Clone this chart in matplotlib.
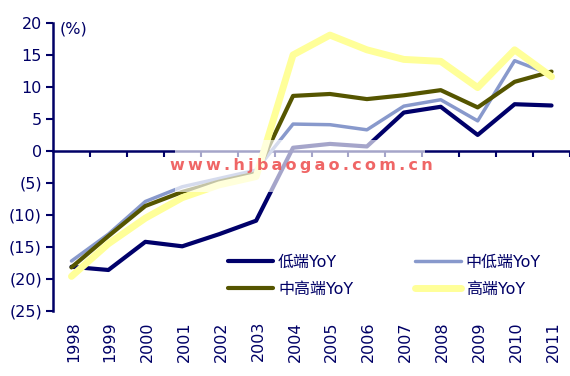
import matplotlib
matplotlib.use('Agg')
import matplotlib.pyplot as plt
from matplotlib.patches import Rectangle
import matplotlib.transforms as mtransforms

plt.rcParams['font.family'] = ['DejaVu Sans', 'Noto Sans CJK SC']

years = ['1998', '1999', '2000', '2001', '2002', '2003', '2004',
         '2005', '2006', '2007', '2008', '2009', '2010', '2011']
low = [-18.1, -18.6, -14.2, -14.9, -13.0, -10.9, 0.5, 1.1, 0.7, 6.0, 6.9, 2.5, 7.3, 7.1]
mid_low = [-17.2, -13.0, -7.9, -5.6, -4.3, -3.0, 4.2, 4.1, 3.3, 7.0, 8.0, 4.7, 14.1, 11.9]
mid_high = [-18.2, -13.3, -8.6, -6.4, -4.8, -3.5, 8.6, 8.9, 8.1, 8.7, 9.5, 6.8, 10.8, 12.4]
high = [-19.6, -14.5, -10.5, -7.3, -5.3, -4.0, 15.0, 18.1, 15.8, 14.3, 14.0, 9.9, 15.8, 11.6]
labels = ['低端YoY', '中低端YoY', '中高端YoY', '高端YoY']
yticks = [20, 15, 10, 5, 0, -5, -10, -15, -20, -25]
watermark = 'www.hjbaogao.com.cn'

navy = '#000066'
fs = 11.5
x = list(range(len(years)))

fig = plt.figure(figsize=(5.7, 3.76), dpi=100)
ax = fig.add_axes([0.093, 0.173, 0.907, 0.766])

l1, = ax.plot(x, low, color='#00006a', lw=3.0, zorder=3, solid_capstyle='round')
l2, = ax.plot(x, mid_low, color='#8899cc', lw=2.5, zorder=4, solid_capstyle='round')
l3, = ax.plot(x, mid_high, color='#555500', lw=3.0, zorder=5, solid_capstyle='round')
l4, = ax.plot(x, high, color='#ffff99', lw=5.0, zorder=6, solid_capstyle='round')

ax.set_xlim(-0.5, len(years) - 0.5)
ax.set_ylim(-25, 20)
ax.set_yticks(yticks)
ax.set_yticklabels([str(v) if v >= 0 else '(%d)' % -v for v in yticks],
                   fontsize=fs, color=navy)
ax.tick_params(axis='y', direction='out', length=5, width=1.5, color=navy, pad=3)

for s in ['top', 'right']:
    ax.spines[s].set_visible(False)
ax.spines['left'].set_color(navy)
ax.spines['left'].set_linewidth(1.8)
ax.spines['bottom'].set_position(('data', 0))
ax.spines['bottom'].set_color(navy)
ax.spines['bottom'].set_linewidth(1.8)
ax.spines['bottom'].set_zorder(2)
ax.set_xticks([i + 0.5 for i in x])
ax.set_xticklabels([])
ax.tick_params(axis='x', direction='out', length=4, width=1.5, color=navy)

# year labels below the plot
trans = mtransforms.blended_transform_factory(ax.transData, ax.transAxes)
for i, yr in enumerate(years):
    ax.text(i + 0.05, -0.035, yr, transform=trans, rotation=90, ha='center', va='top',
            fontsize=fs, color=navy)

ax.text(0.012, 1.005, '(%)', transform=ax.transAxes, ha='left', va='top',
        fontsize=fs, color=navy)

leg = ax.legend([l1, l3, l2, l4], [labels[0], labels[2], labels[1], labels[3]],
                ncol=2, frameon=False, loc='lower left', bbox_to_anchor=(0.31, 0.0),
                handlelength=2.85, columnspacing=3.9, labelspacing=0.75,
                handletextpad=0.3, fontsize=fs)
for t in leg.get_texts():
    t.set_color(navy)

# watermark
fig.patches.append(Rectangle((175 / 570, 1 - 192 / 376), 250 / 570, 52 / 376,
                             transform=fig.transFigure, facecolor='white', alpha=0.65,
                             edgecolor='none', zorder=10))
fig.text(301 / 570, 1 - 166 / 376, '\u2009'.join(watermark), ha='center', va='center',
         fontsize=11.5, fontweight='bold', color='#ee5555', alpha=0.9, zorder=11)

fig.savefig('out.png', dpi=100)
